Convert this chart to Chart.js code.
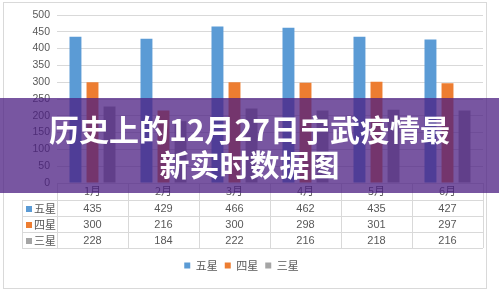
<!doctype html>
<html lang="zh">
<head>
<meta charset="UTF-8"/>
<title>历史上的12月27日宁武疫情最新实时数据图</title>
<script src="https://cdn.jsdelivr.net/npm/chart.js@4/dist/chart.umd.min.js"></script>
<style>
 * { margin: 0; padding: 0; }
 body { background: #fff; }
 #wrap { position: relative; width: 499px; height: 292px; }
 #banner {
     position: absolute; left: 0; top: 98px; width: 499px; height: 95px;
     background: rgba(75, 30, 130, 0.75);
     display: flex; align-items: center; justify-content: center;
     color: #fff; font-family: "Noto Sans CJK SC", sans-serif; font-weight: bold;
     font-size: 30px; line-height: 35px; text-align: center;
 }
</style>
</head>
<body>
<div id="wrap">
    <canvas id="chart"></canvas>
    <div id="banner"><div>历史上的12月27日宁武疫情最<br>新实时数据图</div></div>
</div>
<script>
 const months = ['1月', '2月', '3月', '4月', '5月', '6月'];
 const seriesNames = ['五星', '四星', '三星'];
 const fiveStar = [435, 429, 466, 462, 435, 427];
 const fourStar = [300, 216, 300, 298, 301, 297];
 const threeStar = [228, 184, 222, 216, 218, 216];
 const seriesColors = ['#5B9BD5', '#ED7D31', '#A5A5A5'];
 const yMax = 500;
 const yStep = 50;

 const textGray = '#595959';
 const lineGray = '#D9D9D9';
 const cjkFont = '"Noto Sans CJK SC", sans-serif';

 // data table under the plot, like the excel one
 const tablePlugin = {
     id: 'dataTable',
     beforeDraw(chart) {
         const ctx = chart.ctx;
         ctx.save();
         ctx.fillStyle = '#fff';
         ctx.fillRect(0, 0, chart.width, chart.height);
         ctx.strokeStyle = lineGray;
         ctx.lineWidth = 1;
         ctx.strokeRect(3.5, 2.5, 483, 286);
         ctx.restore();
     },
     afterDraw(chart) {
         const ctx = chart.ctx;
         const area = chart.chartArea;
         const xs = chart.scales.x;
         const band = xs.getPixelForValue(1) - xs.getPixelForValue(0);
         const rows = [fiveStar, fourStar, threeStar];
         const head = 17, rowH = 16, keyLeft = 22;
         const top = Math.round(area.bottom);
         const bottom = top + head + rows.length * rowH;

         ctx.save();
         ctx.strokeStyle = lineGray;
         ctx.lineWidth = 1;
         ctx.beginPath();
         for (let i = 0; i <= months.length; i++) {
             const x = Math.round(area.left + i * band) + 0.5;
             ctx.moveTo(x, top);
             ctx.lineTo(x, bottom);
         }
         ctx.moveTo(keyLeft + 0.5, top + head);
         ctx.lineTo(keyLeft + 0.5, bottom);
         for (let r = 0; r <= rows.length; r++) {
             const y = top + head + r * rowH + 0.5;
             ctx.moveTo(keyLeft, y);
             ctx.lineTo(area.right, y);
         }
         ctx.stroke();

         ctx.textBaseline = 'middle';
         rows.forEach((vals, r) => {
             const yc = top + head + r * rowH + rowH / 2 + 1;
             ctx.fillStyle = seriesColors[r];
             ctx.fillRect(keyLeft + 4, yc - 3, 6, 6);
             ctx.fillStyle = textGray;
             ctx.font = '11px ' + cjkFont;
             ctx.textAlign = 'left';
             ctx.fillText(seriesNames[r], keyLeft + 12, yc);
             ctx.font = '11px "Liberation Sans", sans-serif';
             ctx.textAlign = 'center';
             vals.forEach((v, i) => {
                 ctx.fillText(String(v), xs.getPixelForValue(i), yc);
             });
         });
         ctx.restore();
     }
 };

 new Chart(document.getElementById('chart'), {
     type: 'bar',
     data: {
         labels: months,
         datasets: [
             { label: seriesNames[0], data: fiveStar, backgroundColor: seriesColors[0] },
             { label: seriesNames[1], data: fourStar, backgroundColor: seriesColors[1] },
             { label: seriesNames[2], data: threeStar, backgroundColor: seriesColors[2] }
         ]
     },
     options: {
         responsive: true,
         maintainAspectRatio: false,
         animation: false,
         layout: { padding: { top: 15, right: 16, bottom: 11, left: 0 } },
         datasets: { bar: { categoryPercentage: 0.72, barPercentage: 0.7 } },
         scales: {
             x: {
                 grid: { display: false, drawTicks: false },
                 border: { display: false },
                 ticks: { color: textGray, padding: 1, font: { family: cjkFont, size: 11 } },
                 afterFit(scale) { scale.height = 70; }
             },
             y: {
                 min: 0,
                 max: yMax,
                 ticks: { stepSize: yStep, color: textGray, padding: 7, font: { family: 'Liberation Sans', size: 10.5 } },
                 grid: { color: lineGray, drawTicks: false },
                 border: { display: false },
                 afterFit(scale) { scale.width = 57; }
             }
         },
         plugins: {
             legend: {
                 position: 'bottom',
                 labels: {
                     boxWidth: 6, boxHeight: 6, padding: 7, color: textGray,
                     font: { family: cjkFont, size: 11 }
                 }
             },
             tooltip: { enabled: false }
         }
     },
     plugins: [tablePlugin]
 });
</script>
</body>
</html>
